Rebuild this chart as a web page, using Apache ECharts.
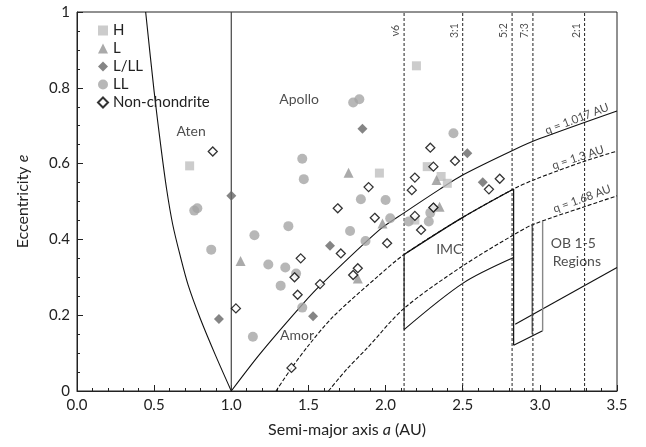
<!DOCTYPE html>
<html><head><meta charset="utf-8">
<script src="https://cdn.jsdelivr.net/npm/echarts@6/dist/echarts.min.js"></script>
<style>html,body{margin:0;padding:0;background:#fff}#c{width:646px;height:447px}</style>
</head><body><div id="c"></div>
<script>
// ---- scatter data [a (AU), e] ----
const hData = [[0.73,0.594],[2.20,0.858],[1.96,0.575],[2.27,0.592],[2.36,0.566],[2.40,0.548],[2.19,0.451]];
const lData = [[1.06,0.343],[1.76,0.576],[1.98,0.442],[2.33,0.557],[2.35,0.486],[1.82,0.297]];
const llMixData = [[1.00,0.515],[0.92,0.190],[1.85,0.692],[1.64,0.383],[1.53,0.197],[2.53,0.627],[2.63,0.551],[2.31,0.484]];
const llData = [[0.76,0.476],[0.78,0.482],[0.87,0.373],[1.15,0.411],[1.24,0.334],[1.14,0.143],[1.32,0.278],[1.37,0.435],[1.35,0.326],[1.42,0.310],[1.46,0.220],[1.46,0.613],[1.47,0.559],[1.79,0.761],[1.83,0.770],[2.44,0.680],[1.84,0.506],[2.00,0.504],[2.03,0.456],[1.77,0.422],[1.87,0.396],[2.15,0.447],[2.28,0.447],[2.29,0.47]];
const ncData = [[0.88,0.632],[1.03,0.218],[1.45,0.350],[1.41,0.300],[1.43,0.254],[1.575,0.282],[1.89,0.538],[1.69,0.482],[1.93,0.457],[2.01,0.390],[1.71,0.363],[1.82,0.324],[1.79,0.306],[1.39,0.061],[2.17,0.530],[2.19,0.462],[2.23,0.425],[2.29,0.642],[2.31,0.592],[2.19,0.563],[2.31,0.484],[2.45,0.607],[2.74,0.560],[2.67,0.532]];

// ---- boundary curves ----
const atenCurve = [[0.445,1],[0.50,0.79],[0.545,0.64],[0.58,0.535],[0.62,0.44],[0.67,0.355],[0.72,0.28],[0.80,0.19],[0.90,0.092],[1.0,0]];
const oneAU = [[1,0],[1,1]];
const q1017 = [[1.0,0],[1.19,0.10],[1.46,0.228],[1.58,0.28],[1.96,0.425],[2.12,0.47],[2.35,0.532],[2.50,0.57],[2.83,0.636],[3.0,0.666],[3.5,0.739]];
const q13 = [[1.29,0],[1.39,0.06],[1.5,0.12],[1.66,0.196],[1.96,0.306],[2.12,0.36],[2.5,0.458],[2.83,0.533],[2.96,0.557],[3.28,0.605],[3.5,0.633]];
const q168 = [[1.63,0],[1.75,0.058],[1.88,0.113],[2.12,0.218],[2.5,0.33],[2.83,0.412],[2.96,0.44],[3.28,0.485],[3.5,0.515]];
const imcTop = [[2.12,0.36],[2.5,0.458],[2.83,0.533]];
const imcLeft = [[2.12,0.162],[2.12,0.36]];
const imcBottom = [[2.12,0.162],[2.5,0.284],[2.83,0.352]];
const regionRight = [[2.83,0.121],[2.83,0.533]];
const obBottom = [[2.83,0.121],[3.018,0.159]];
const obTop = [[2.84,0.176],[3.5,0.326]];
const obGrayA = [[2.951,0.150],[2.951,0.440]];
const obGrayB = [[3.018,0.159],[3.018,0.449]];

// ---- resonances ----
const resNames = ['ν6','3:1','5:2','7:3','2:1'];
const resA = [2.12,2.50,2.82,2.955,3.29];

// ---- text labels ----
const regionNames = ['Aten','Apollo','Amor','IMC','OB 1-5','Regions'];
const regionPos = [[0.74,0.684],[1.44,0.768],[1.426,0.147],[2.413,0.374],[3.217,0.388],[3.24,0.342]];
const qNames = ['q = 1.017 AU','q = 1.3 AU','q = 1.68 AU'];
const qPos = [[3.24,0.718],[3.247,0.616],[3.273,0.507]];
const qAngles = [21,18,20];

const FONT = 'Lato';
const INK = '#222';
function line(data, opt){
  opt = opt||{};
  return {type:'line', data:data, symbol:'none', silent:true, smooth: opt.smooth||false,
    lineStyle:{color:opt.color||'#111', width:opt.width||1.1, type:opt.type||'solid'}, z:1};
}
const series = [];
series.push({name:'H', type:'scatter', data:hData, symbol:'rect', symbolSize:9, itemStyle:{color:'#BFBFBF'}, z:3});
series.push({name:'L', type:'scatter', data:lData, symbol:'triangle', symbolSize:10, itemStyle:{color:'#959595'}, z:3});
series.push({name:'L/LL', type:'scatter', data:llMixData, symbol:'diamond', symbolSize:10, itemStyle:{color:'#666'}, z:3});
series.push({name:'LL', type:'scatter', data:llData, symbol:'circle', symbolSize:10, itemStyle:{color:'#A5A5A5'}, z:3});
series.push({name:'Non-chondrite', type:'scatter', data:ncData, symbol:'diamond', symbolSize:9, itemStyle:{color:'#fff', borderColor:'#000', borderWidth:1.3}, z:4});

series.push(line(atenCurve,{smooth:0.3}));
series.push(line(oneAU,{color:'#444', width:1.2}));
series.push(line(q1017,{smooth:0.3}));
series.push(line(q13,{smooth:0.3, type:[4,2]}));
series.push(line(q168,{smooth:0.3, type:[4,2]}));
series.push(line(imcTop,{smooth:0.3, width:1.3}));
series.push(line(imcLeft,{}));
series.push(line(imcBottom,{smooth:0.3}));
series.push(line(regionRight,{width:1.2}));
series.push(line(obBottom,{}));
series.push(line(obTop,{}));
series.push(line(obGrayA,{color:'#666', width:1.6}));
series.push(line(obGrayB,{color:'#888', width:1.4}));
resA.forEach(function(a,i){
  series.push(line([[a,0],[a,1]],{type:[3,2], width:1, color:'#222'}));
});
series.push({type:'scatter', silent:true, symbolSize:0, z:5,
  data: resA.map(function(a,i){return {value:[a,0.951], name:resNames[i]};}),
  label:{show:true, formatter:'{b}', rotate:90, position:'inside', offset:[0,-8], fontSize:10.5, color:INK, fontFamily:FONT}});
series.push({type:'scatter', silent:true, symbolSize:0, z:5,
  data: regionPos.map(function(p,i){return {value:p, name:regionNames[i]};}),
  label:{show:true, formatter:'{b}', position:'inside', fontSize:14, color:INK, fontFamily:FONT}});
series.push({type:'scatter', silent:true, symbolSize:0, z:5,
  data: qPos.map(function(p,i){return {value:p, name:qNames[i], label:{rotate:qAngles[i]}};}),
  label:{show:true, formatter:'{b}', position:'inside', fontSize:11.5, color:INK, fontFamily:FONT}});

const option = {
  animation:false,
  textStyle:{fontFamily:FONT},
  grid:{left:77,right:29,top:12,bottom:56, show:true, borderColor:'#222', borderWidth:1},
  legend:{data:['H','L','L/LL','LL','Non-chondrite'], orient:'vertical', left:97, top:23, itemGap:3, itemWidth:10, itemHeight:10, padding:0,
    textStyle:{fontSize:15, color:INK, fontFamily:FONT}},
  xAxis:{type:'value', min:0, max:3.5, interval:0.5,
    axisLine:{lineStyle:{color:'#222'}}, splitLine:{show:false},
    axisTick:{inside:true, length:6, lineStyle:{color:'#222'}},
    minorTick:{show:true, splitNumber:5, length:3, lineStyle:{color:'#222'}},
    axisLabel:{formatter:function(v){return v.toFixed(1);}, fontSize:15, color:INK, margin:7, fontFamily:FONT},
    name:'Semi-major axis {i|a} (AU)', nameLocation:'middle', nameGap:31,
    nameTextStyle:{fontSize:16, color:INK, fontFamily:FONT, rich:{i:{fontStyle:'italic', fontSize:16, color:INK, fontFamily:FONT}}}},
  yAxis:{type:'value', min:0, max:1, interval:0.2,
    axisLine:{show:true, lineStyle:{color:'#222'}}, splitLine:{show:false},
    axisTick:{show:true, inside:true, length:6, lineStyle:{color:'#222'}},
    minorTick:{show:true, splitNumber:4, length:3, lineStyle:{color:'#222'}},
    axisLabel:{formatter:function(v){return (v===0||v===1)?String(v):v.toFixed(1);}, fontSize:15, color:INK, margin:7, fontFamily:FONT},
    name:'Eccentricity {i|e}', nameLocation:'middle', nameGap:46,
    nameTextStyle:{fontSize:16, color:INK, fontFamily:FONT, rich:{i:{fontStyle:'italic', fontSize:16, color:INK, fontFamily:FONT}}}},
  series:series
};
echarts.init(document.getElementById('c')).setOption(option);
</script></body></html>
